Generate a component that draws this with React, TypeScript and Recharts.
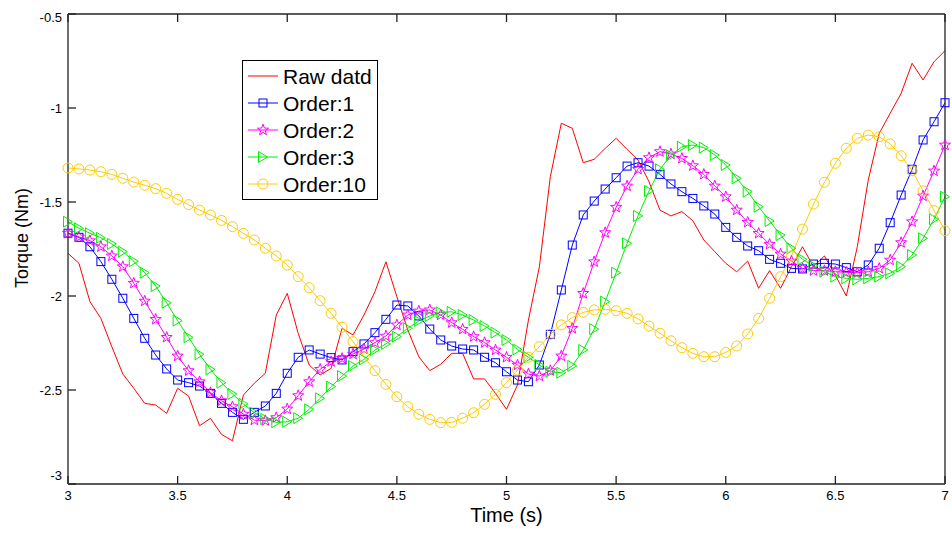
import { LineChart, Line, XAxis, YAxis, Legend } from "recharts"

// sampled every 0.05 s from 3 s to 7 s
const TIME = Array.from({ length: 81 }, (_, i) => Math.round((3 + i * 0.05) * 100) / 100)

const RAW = [
  -1.773, -1.826, -2.030, -2.119, -2.270, -2.415, -2.491, -2.571, -2.580, -2.624,
  -2.491, -2.532, -2.690, -2.651, -2.736, -2.770, -2.527, -2.464, -2.411, -2.101,
  -1.986, -2.199, -2.367, -2.420, -2.385, -2.172, -2.207, -2.101, -1.977, -1.818,
  -2.004, -2.181, -2.323, -2.397, -2.363, -2.305, -2.305, -2.441, -2.441, -2.518,
  -2.603, -2.473, -2.128, -1.844, -1.365, -1.081, -1.108, -1.291, -1.273, -1.215,
  -1.161, -1.220, -1.277, -1.392, -1.543, -1.574, -1.551, -1.600, -1.702, -1.764,
  -1.826, -1.871, -1.814, -1.959, -1.865, -1.959, -1.844, -1.738, -1.844, -1.787,
  -1.890, -2.000, -1.738, -1.383, -1.135, -1.028, -0.922, -0.762, -0.851, -0.754,
  -0.695,
]

const ORDER1 = [
  -1.666, -1.688, -1.738, -1.817, -1.911, -2.012, -2.119, -2.225, -2.314, -2.388,
  -2.447, -2.461, -2.479, -2.518, -2.571, -2.619, -2.656, -2.619, -2.585, -2.518,
  -2.411, -2.326, -2.287, -2.309, -2.328, -2.340, -2.296, -2.255, -2.195, -2.124,
  -2.048, -2.053, -2.106, -2.176, -2.234, -2.266, -2.282, -2.287, -2.326, -2.355,
  -2.403, -2.447, -2.456, -2.367, -2.204, -1.968, -1.729, -1.569, -1.495, -1.431,
  -1.371, -1.309, -1.291, -1.309, -1.353, -1.404, -1.445, -1.481, -1.521, -1.564,
  -1.635, -1.688, -1.734, -1.759, -1.805, -1.826, -1.853, -1.856, -1.830, -1.826,
  -1.830, -1.849, -1.871, -1.835, -1.746, -1.610, -1.463, -1.326, -1.170, -1.073,
  -0.972,
]

const ORDER2 = [
  -1.666, -1.686, -1.706, -1.738, -1.787, -1.844, -1.932, -2.027, -2.124, -2.220,
  -2.319, -2.397, -2.456, -2.514, -2.557, -2.589, -2.628, -2.660, -2.663, -2.647,
  -2.601, -2.530, -2.456, -2.390, -2.349, -2.332, -2.309, -2.282, -2.248, -2.213,
  -2.154, -2.101, -2.080, -2.074, -2.101, -2.142, -2.177, -2.216, -2.248, -2.287,
  -2.326, -2.367, -2.415, -2.426, -2.397, -2.319, -2.172, -1.986, -1.818, -1.663,
  -1.528, -1.415, -1.326, -1.264, -1.232, -1.245, -1.268, -1.307, -1.353, -1.415,
  -1.472, -1.543, -1.608, -1.667, -1.725, -1.777, -1.815, -1.853, -1.865, -1.865,
  -1.871, -1.874, -1.876, -1.871, -1.853, -1.809, -1.716, -1.605, -1.468, -1.335,
  -1.197,
]

const ORDER3 = [
  -1.605, -1.640, -1.666, -1.690, -1.723, -1.764, -1.815, -1.876, -1.947, -2.036,
  -2.131, -2.220, -2.310, -2.390, -2.461, -2.521, -2.574, -2.621, -2.654, -2.672,
  -2.669, -2.650, -2.603, -2.544, -2.482, -2.426, -2.372, -2.337, -2.287, -2.255,
  -2.216, -2.172, -2.133, -2.106, -2.087, -2.084, -2.101, -2.128, -2.160, -2.195,
  -2.234, -2.284, -2.326, -2.367, -2.403, -2.408, -2.372, -2.287, -2.176, -2.030,
  -1.876, -1.720, -1.574, -1.441, -1.326, -1.252, -1.206, -1.197, -1.211, -1.250,
  -1.303, -1.374, -1.445, -1.525, -1.601, -1.676, -1.746, -1.805, -1.840, -1.871,
  -1.897, -1.906, -1.911, -1.906, -1.897, -1.879, -1.844, -1.782, -1.693, -1.592,
  -1.472,
]

const ORDER10 = [
  -1.319, -1.324, -1.330, -1.339, -1.353, -1.374, -1.394, -1.411, -1.429, -1.454,
  -1.486, -1.514, -1.543, -1.569, -1.598, -1.631, -1.667, -1.702, -1.746, -1.787,
  -1.835, -1.897, -1.956, -2.025, -2.092, -2.166, -2.243, -2.323, -2.397, -2.470,
  -2.536, -2.589, -2.629, -2.656, -2.674, -2.672, -2.650, -2.621, -2.576, -2.523,
  -2.461, -2.394, -2.326, -2.270, -2.204, -2.154, -2.115, -2.087, -2.074, -2.071,
  -2.078, -2.092, -2.122, -2.160, -2.198, -2.238, -2.275, -2.305, -2.323, -2.323,
  -2.300, -2.266, -2.202, -2.119, -2.012, -1.897, -1.787, -1.644, -1.511, -1.395,
  -1.294, -1.214, -1.161, -1.144, -1.153, -1.191, -1.254, -1.334, -1.440, -1.546,
  -1.653,
]

const X_TICKS = [3, 3.5, 4, 4.5, 5, 5.5, 6, 6.5, 7]
const Y_TICKS = [-3, -2.5, -2, -1.5, -1, -0.5]

const FONT = "'Liberation Sans', Arial, Helvetica, sans-serif"

type MarkerKind = "none" | "square" | "star" | "triangle" | "circle"

const SERIES: { key: string; name: string; color: string; marker: MarkerKind }[] = [
  { key: "raw", name: "Raw datd", color: "#ff0000", marker: "none" },
  { key: "o1", name: "Order:1", color: "#0000ff", marker: "square" },
  { key: "o2", name: "Order:2", color: "#ff00ff", marker: "star" },
  { key: "o3", name: "Order:3", color: "#00ee00", marker: "triangle" },
  { key: "o10", name: "Order:10", color: "#ffcc00", marker: "circle" },
]

const data = TIME.map((t, i) => ({
  t,
  raw: RAW[i],
  o1: ORDER1[i],
  o2: ORDER2[i],
  o3: ORDER3[i],
  o10: ORDER10[i],
}))

function starPoints(cx: number, cy: number, ro: number, ri: number) {
  const pts: string[] = []
  for (let k = 0; k < 10; k++) {
    const r = k % 2 === 0 ? ro : ri
    const a = -Math.PI / 2 + (k * Math.PI) / 5
    pts.push(`${cx + r * Math.cos(a)},${cy + r * Math.sin(a)}`)
  }
  return pts.join(" ")
}

function Marker({ kind, cx, cy, color }: { kind: MarkerKind; cx: number; cy: number; color: string }) {
  const common = { fill: "none", stroke: color, strokeWidth: 1 }
  if (kind === "square") return <rect x={cx - 4} y={cy - 4} width={8} height={8} {...common} />
  if (kind === "circle") return <circle cx={cx} cy={cy} r={5} {...common} />
  if (kind === "triangle")
    return <polygon points={`${cx + 4.5},${cy} ${cx - 4.5},${cy - 5.5} ${cx - 4.5},${cy + 5.5}`} {...common} />
  if (kind === "star") return <polygon points={starPoints(cx, cy, 5.8, 2.4)} {...common} />
  return null
}

function YTick({ x, y, payload }: any) {
  const v = payload.value
  // matlab nudges the end labels inside the figure
  const shift = v === -3 ? -9 : v === -0.5 ? 3 : 0
  return (
    <text x={x} y={y + shift} textAnchor="end" dominantBaseline="central" fontSize={13} fill="#000" fontFamily={FONT}>
      {v}
    </text>
  )
}

function YLabel() {
  return (
    <text
      transform="translate(22,238) rotate(-90)"
      textAnchor="middle"
      dominantBaseline="central"
      fontSize={18}
      fill="#000"
      fontFamily={FONT}
    >
      Torque (Nm)
    </text>
  )
}

function LegendBox() {
  return (
    <svg width={136} height={140} style={{ display: "block" }}>
      <rect x={0.5} y={0.5} width={135} height={139} fill="#fff" stroke="#000" strokeWidth={1} />
      {SERIES.map((s, i) => {
        const cy = 16 + i * 27
        return (
          <g key={s.key}>
            <line x1={6} x2={36} y1={cy} y2={cy} stroke={s.color} strokeWidth={1} />
            <Marker kind={s.marker} cx={21} cy={cy} color={s.color} />
            <text x={41} y={cy} dominantBaseline="central" fontSize={21} fill="#000" fontFamily={FONT}>
              {s.name}
            </text>
          </g>
        )
      })}
    </svg>
  )
}

export default function App() {
  return (
    <div style={{ position: "absolute", left: 0, top: 0, background: "#fff" }}>
      <LineChart width={952} height={536} data={data} margin={{ top: 13, right: 6, bottom: 0, left: 0 }}>
        <XAxis
          dataKey="t"
          type="number"
          domain={[3, 7]}
          ticks={X_TICKS}
          height={52}
          tickSize={-8}
          tickMargin={15}
          stroke="#222"
          strokeWidth={1.3}
          tick={{ fill: "#000", fontSize: 13, fontFamily: FONT }}
          label={{ value: "Time (s)", position: "insideBottom", offset: 14, style: { fontSize: 20, fill: "#000", fontFamily: FONT } }}
        />
        <XAxis
          xAxisId="top"
          orientation="top"
          dataKey="t"
          type="number"
          domain={[3, 7]}
          ticks={X_TICKS}
          height={1}
          tickSize={-8}
          tickFormatter={() => ""}
          stroke="#222"
          strokeWidth={1.3}
        />
        <YAxis
          type="number"
          domain={[-3, -0.5]}
          ticks={Y_TICKS}
          width={68}
          tickSize={-8}
          tickMargin={14}
          stroke="#222"
          strokeWidth={1.3}
          tick={<YTick />}
          label={<YLabel />}
        />
        <YAxis
          yAxisId="right"
          orientation="right"
          type="number"
          domain={[-3, -0.5]}
          ticks={Y_TICKS}
          width={1}
          tickSize={-8}
          tickFormatter={() => ""}
          stroke="#222"
          strokeWidth={1.3}
        />
        <Legend
          layout="vertical"
          align="center"
          verticalAlign="middle"
          content={<LegendBox />}
          wrapperStyle={{ left: 242, top: 60, width: 136, height: 140 }}
        />
        {SERIES.map((s) => (
          <Line
            key={s.key}
            dataKey={s.key}
            name={s.name}
            stroke={s.color}
            strokeWidth={1}
            type="linear"
            isAnimationActive={false}
            dot={
              s.marker === "none"
                ? false
                : (p: any) => <Marker key={`${s.key}-${p.index}`} kind={s.marker} cx={p.cx} cy={p.cy} color={s.color} />
            }
            activeDot={false}
          />
        ))}
      </LineChart>
    </div>
  )
}
